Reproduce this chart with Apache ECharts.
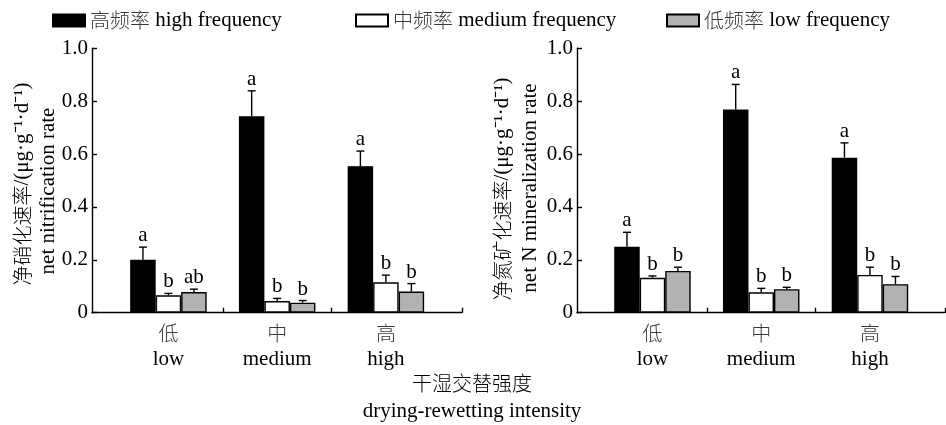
<!DOCTYPE html>
<html>
<head>
<meta charset="utf-8">
<script src="https://cdn.jsdelivr.net/npm/echarts@6/dist/echarts.min.js"></script>
<style>html,body{margin:0;padding:0;background:#fff;}#c{width:946px;height:425px;}</style>
</head>
<body>
<div id="c"></div>
<script>
// ---- data ----
const xPositions = [1, 2, 3];
const xLabelsCn = ['低', '中', '高'];
const xLabelsEn = ['low', 'medium', 'high'];
const seriesNamesCn = ['高频率', '中频率', '低频率'];
const seriesNamesEn = ['high frequency', 'medium frequency', 'low frequency'];
const seriesNames = seriesNamesCn.map((c, i) => c + ' ' + seriesNamesEn[i]);

// left panel: net nitrification rate
const nitHigh = [0.200, 0.743, 0.554];
const nitHighErr = [0.048, 0.096, 0.057];
const nitMed = [0.066, 0.044, 0.115];
const nitMedErr = [0.007, 0.010, 0.027];
const nitLow = [0.078, 0.038, 0.080];
const nitLowErr = [0.011, 0.008, 0.030];
const nitHighLetters = ['a', 'a', 'a'];
const nitMedLetters = ['b', 'b', 'b'];
const nitLowLetters = ['ab', 'b', 'b'];

// right panel: net N mineralization rate
const minHigh = [0.249, 0.768, 0.586];
const minHighErr = [0.055, 0.095, 0.056];
const minMed = [0.132, 0.077, 0.143];
const minMedErr = [0.007, 0.015, 0.029];
const minLow = [0.158, 0.089, 0.108];
const minLowErr = [0.014, 0.007, 0.029];
const minHighLetters = ['a', 'a', 'a'];
const minMedLetters = ['b', 'b', 'b'];
const minLowLetters = ['b', 'b', 'b'];

// ---- styling / layout ----
const FONT = "'Liberation Serif', 'Noto Sans CJK SC', serif";
const CJK = "'Noto Sans CJK SC', sans-serif";
const FS = 21;
const BW = 25.5;          // bar width in px
const colors = ['#000000', '#ffffff', '#b2b2b2'];
const LW = 1.4;
const cjkStyle = { fontFamily: CJK, fontSize: 20, fontWeight: 300, color: '#3a3a3a' };

function xAxisCfg(gridIndex, min, max) {
  return {
    type: 'value', gridIndex, min, max,
    axisLine: { show: true, lineStyle: { color: '#000', width: LW } },
    axisTick: { show: true, inside: true, length: 5, lineStyle: { color: '#000', width: LW }, customValues: [1.5, 2.5, max] },
    axisLabel: {
      customValues: xPositions, margin: 8,
      formatter: v => { const i = Math.round(v) - 1; return '{c|' + xLabelsCn[i] + '}\n' + xLabelsEn[i]; },
      fontFamily: FONT, fontSize: FS, color: '#000', lineHeight: 26,
      rich: { c: Object.assign({ lineHeight: 26 }, cjkStyle) }
    },
    splitLine: { show: false }
  };
}
function yAxisCfg(gridIndex) {
  return {
    type: 'value', gridIndex, min: 0, max: 1, interval: 0.2,
    axisLine: { show: true, lineStyle: { color: '#000', width: LW } },
    axisTick: { show: true, inside: true, length: 5, lineStyle: { color: '#000', width: LW } },
    axisLabel: { margin: 4, fontFamily: FONT, fontSize: FS, color: '#000',
      formatter: v => (v === 0 ? '0' : v.toFixed(1)) },
    splitLine: { show: false }
  };
}

function barSeries(name, idx, axisIdx, vals) {
  return {
    name, type: 'bar', xAxisIndex: axisIdx, yAxisIndex: axisIdx,
    barWidth: BW, barGap: '0%',
    itemStyle: { color: colors[idx], borderColor: '#000', borderWidth: LW },
    data: vals.map((v, i) => [xPositions[i], v])
  };
}
function errSeries(idx, axisIdx, vals, errs, letters) {
  const off = (idx - 1) * BW;
  return {
    type: 'custom', xAxisIndex: axisIdx, yAxisIndex: axisIdx, z: 5, silent: true,
    data: vals.map((v, i) => [xPositions[i], v, errs[i]]),
    renderItem: (params, api) => {
      const x = api.value(0), v = api.value(1), e = api.value(2);
      const b = api.coord([x, v]);
      const t = api.coord([x, v + e]);
      const cx = b[0] + off;
      return {
        type: 'group',
        children: [
          { type: 'line', shape: { x1: cx, y1: b[1], x2: cx, y2: t[1] }, style: { stroke: '#000', lineWidth: LW } },
          { type: 'line', shape: { x1: cx - 4, y1: t[1], x2: cx + 4, y2: t[1] }, style: { stroke: '#000', lineWidth: LW } },
          { type: 'text', x: cx, y: t[1] - 1,
            style: { text: letters[params.dataIndex], align: 'center', verticalAlign: 'bottom',
              font: FS + 'px ' + FONT, fill: '#000' } }
        ]
      };
    }
  };
}

function legendCfg(i, left) {
  return {
    data: [seriesNames[i]], left, top: 10, padding: 0, itemWidth: 32, itemHeight: 12,
    icon: 'rect', selectedMode: false,
    formatter: () => '{c|' + seriesNamesCn[i] + '} ' + seriesNamesEn[i],
    textStyle: { fontFamily: FONT, fontSize: FS, color: '#000', rich: { c: cjkStyle } }
  };
}

function vText(x, y, text) {
  return {
    type: 'text', x, y, rotation: Math.PI / 2,
    style: { text, align: 'center', verticalAlign: 'middle',
      font: FS + 'px ' + FONT, fill: '#000', rich: { c: cjkStyle } }
  };
}

const chart = echarts.init(document.getElementById('c'), null, { renderer: 'canvas' });
chart.setOption({
  backgroundColor: '#fff',
  animation: false,
  legend: [legendCfg(0, 52), legendCfg(1, 355), legendCfg(2, 666)],
  grid: [
    { left: 92, top: 48.2, width: 370, height: 264.5 },
    { left: 577, top: 48.2, width: 368, height: 264.5 }
  ],
  xAxis: [xAxisCfg(0, 0.297, 3.70), xAxisCfg(1, 0.306, 3.690)],
  yAxis: [yAxisCfg(0), yAxisCfg(1)],
  graphic: [
    vText(22, 184, '{c|净硝化速率}/(μg·g⁻¹·d⁻¹)'),
    vText(48, 191, 'net nitrification rate'),
    vText(502, 189, '{c|净氮矿化速率}/(μg·g⁻¹·d⁻¹)'),
    vText(530, 188, 'net N mineralization rate'),
    {
      type: 'text', x: 472, y: 369,
      style: { text: '{c|干湿交替强度}\ndrying-rewetting intensity', align: 'center', verticalAlign: 'top',
        font: FS + 'px ' + FONT, lineHeight: 28, fill: '#000',
        rich: { c: Object.assign({ lineHeight: 28 }, cjkStyle) } }
    }
  ],
  series: [
    barSeries(seriesNames[0], 0, 0, nitHigh),
    barSeries(seriesNames[1], 1, 0, nitMed),
    barSeries(seriesNames[2], 2, 0, nitLow),
    errSeries(0, 0, nitHigh, nitHighErr, nitHighLetters),
    errSeries(1, 0, nitMed, nitMedErr, nitMedLetters),
    errSeries(2, 0, nitLow, nitLowErr, nitLowLetters),
    barSeries(seriesNames[0], 0, 1, minHigh),
    barSeries(seriesNames[1], 1, 1, minMed),
    barSeries(seriesNames[2], 2, 1, minLow),
    errSeries(0, 1, minHigh, minHighErr, minHighLetters),
    errSeries(1, 1, minMed, minMedErr, minMedLetters),
    errSeries(2, 1, minLow, minLowErr, minLowLetters)
  ]
});
</script>
</body>
</html>
